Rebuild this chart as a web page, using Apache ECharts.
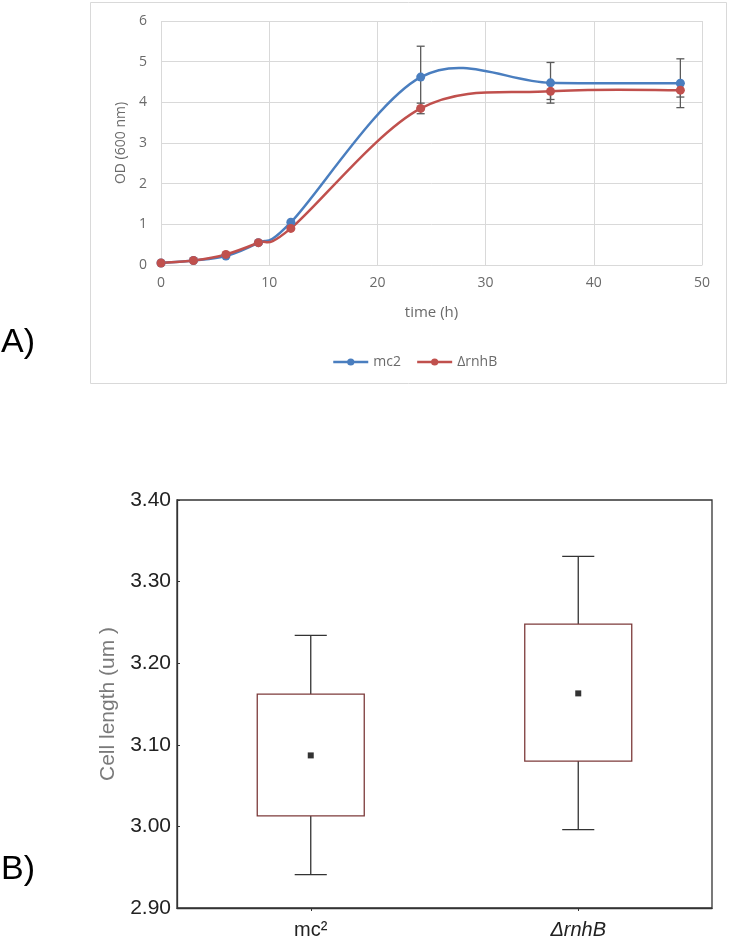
<!DOCTYPE html>
<html>
<head>
<meta charset="utf-8">
<script src="https://cdn.jsdelivr.net/npm/echarts@6/dist/echarts.min.js"></script>
<style>
  html, body { margin: 0; padding: 0; background: #fff; }
  #chart { width: 730px; height: 942px; }
</style>
</head>
<body>
<div id="chart"></div>
<script>
// ---- Panel A data: growth curve ----
const timeH = [0, 3, 6, 9, 12, 24, 36, 48];
const odMc2 = [0.05, 0.11, 0.22, 0.55, 1.05, 4.62, 4.48, 4.47];
const odRnhB = [0.05, 0.11, 0.26, 0.55, 0.90, 3.85, 4.27, 4.30];
const errTimes = [24, 36, 48];
const mc2Low = [3.86, 3.98, 3.87];
const mc2High = [5.38, 4.98, 5.07];
const rnhLow = [3.72, 4.07, 4.13];
const rnhHigh = [3.98, 4.47, 4.47];
const seriesNames = ['mc2', '\u0394rnhB'];

// ---- Panel B data: cell length box plot ----
const strains = ['mc\u00B2', '\u0394rnhB'];
const whiskerLow = [2.941, 2.996];
const quart1 = [3.013, 3.080];
const quart3 = [3.162, 3.248];
const whiskerHigh = [3.234, 3.331];
const means = [3.087, 3.163];

const blue = '#4a7ebf';
const red = '#c0504d';
const excelFont = 'Open Sans';
const greyTxt = '#6a6a6a';
const arialFont = '"Liberation Sans", Arial, sans-serif';

const chart = echarts.init(document.getElementById('chart'), null, { renderer: 'canvas' });

// Excel-style smoothed curve (Catmull-Rom Bezier in pixel space)
function curveRenderer(xs, ys, color) {
  return function (params, api) {
    if (params.dataIndex !== 0) return null;
    const pts = xs.map((x, i) => api.coord([x, ys[i]]));
    const n = pts.length;
    let d = 'M' + pts[0][0] + ' ' + pts[0][1];
    for (let i = 0; i < n - 1; i++) {
      const p0 = pts[Math.max(i - 1, 0)];
      const p1 = pts[i];
      const p2 = pts[i + 1];
      const p3 = pts[Math.min(i + 2, n - 1)];
      const c1x = p1[0] + (p2[0] - p0[0]) / 6;
      const c1y = p1[1] + (p2[1] - p0[1]) / 6;
      const c2x = p2[0] - (p3[0] - p1[0]) / 6;
      const c2y = p2[1] - (p3[1] - p1[1]) / 6;
      d += ' C' + c1x + ' ' + c1y + ' ' + c2x + ' ' + c2y + ' ' + p2[0] + ' ' + p2[1];
    }
    return {
      type: 'path',
      shape: { pathData: d },
      style: { fill: 'none', stroke: color, lineWidth: 2.5, lineJoin: 'round', lineCap: 'round' }
    };
  };
}

function errRender(params, api) {
  const x = api.value(0);
  const lo = api.coord([x, api.value(1)]);
  const hi = api.coord([x, api.value(2)]);
  const w = 4;
  const st = { stroke: '#5a5a5a', lineWidth: 1.3 };
  return {
    type: 'group',
    children: [
      { type: 'line', shape: { x1: lo[0], y1: lo[1], x2: hi[0], y2: hi[1] }, style: st },
      { type: 'line', shape: { x1: lo[0] - w, y1: lo[1], x2: lo[0] + w, y2: lo[1] }, style: st },
      { type: 'line', shape: { x1: hi[0] - w, y1: hi[1], x2: hi[0] + w, y2: hi[1] }, style: st }
    ]
  };
}

function boxRender(params, api) {
  const c = api.value(0);
  const pLow = api.coord([c, api.value(1)]);
  const pQ1 = api.coord([c, api.value(2)]);
  const pQ3 = api.coord([c, api.value(3)]);
  const pHigh = api.coord([c, api.value(4)]);
  const band = api.size([1, 0])[0];
  const bw = band * 0.4;
  const cw = band * 0.12;
  const x = pQ1[0];
  const wst = { stroke: '#333', lineWidth: 1.3 };
  return {
    type: 'group',
    children: [
      { type: 'line', shape: { x1: x, y1: pQ3[1], x2: x, y2: pHigh[1] }, style: wst },
      { type: 'line', shape: { x1: x, y1: pQ1[1], x2: x, y2: pLow[1] }, style: wst },
      { type: 'line', shape: { x1: x - cw / 2, y1: pHigh[1], x2: x + cw / 2, y2: pHigh[1] }, style: wst },
      { type: 'line', shape: { x1: x - cw / 2, y1: pLow[1], x2: x + cw / 2, y2: pLow[1] }, style: wst },
      { type: 'rect', shape: { x: x - bw / 2, y: pQ3[1], width: bw, height: pQ1[1] - pQ3[1] },
        style: { fill: '#fff', stroke: '#7d3b3b', lineWidth: 1.3 } }
    ]
  };
}

const option = {
  animation: false,
  backgroundColor: '#fff',
  textStyle: { fontFamily: excelFont },
  graphic: [
    { type: 'rect', shape: { x: 90.5, y: 2.5, width: 636, height: 381 },
      style: { fill: 'none', stroke: '#d9d9d9', lineWidth: 1 }, z: -10 },
    { type: 'text', left: 1, top: 326, style: { text: 'A)', font: '34px "Liberation Sans", Arial, sans-serif', fill: '#000' } },
    { type: 'text', left: 1, top: 853, style: { text: 'B)', font: '34px "Liberation Sans", Arial, sans-serif', fill: '#000' } }
  ],
  legend: {
    data: [
      { name: seriesNames[0], lineStyle: { color: blue, width: 2.5, opacity: 1 } },
      { name: seriesNames[1], lineStyle: { color: red, width: 2.5, opacity: 1 } }
    ],
    left: 327,
    top: 350,
    itemWidth: 35,
    itemHeight: 9,
    itemGap: 15,
    textStyle: { color: greyTxt, fontSize: 14, fontFamily: excelFont }
  },
  grid: [
    { left: 161, top: 21, width: 541, height: 244 },
    { left: 177, top: 500, width: 535, height: 408, show: true, borderColor: '#333', borderWidth: 1.3, backgroundColor: 'transparent' }
  ],
  xAxis: [
    {
      gridIndex: 0, type: 'value', min: 0, max: 50, interval: 10,
      name: 'time (h)', nameLocation: 'middle', nameGap: 40,
      nameTextStyle: { color: greyTxt, fontSize: 15, fontFamily: excelFont },
      axisLine: { show: true, lineStyle: { color: '#d9d9d9', width: 1 } },
      axisTick: { show: false },
      axisLabel: { color: greyTxt, fontSize: 14, margin: 11, fontFamily: excelFont },
      splitLine: { show: true, lineStyle: { color: '#d9d9d9', width: 1 } }
    },
    {
      gridIndex: 1, type: 'category', data: strains,
      axisLine: { show: true, lineStyle: { color: '#333', width: 1.3 } },
      axisTick: { show: true, alignWithLabel: true, length: 3, lineStyle: { color: '#333' } },
      axisLabel: {
        color: '#222', fontSize: 20, margin: 12, fontFamily: arialFont,
        formatter: function (v, i) { return i === 1 ? '{it|' + v + '}' : v; },
        rich: { it: { fontStyle: 'italic', fontSize: 20, color: '#222', fontFamily: arialFont } }
      },
      splitLine: { show: false }
    }
  ],
  yAxis: [
    {
      gridIndex: 0, type: 'value', min: 0, max: 6, interval: 1,
      name: 'OD (600 nm)', nameLocation: 'middle', nameGap: 29,
      nameTextStyle: { color: greyTxt, fontSize: 14, fontFamily: excelFont },
      axisLine: { show: false },
      axisTick: { show: false },
      axisLabel: { color: greyTxt, fontSize: 14, margin: 14, fontFamily: excelFont },
      splitLine: { show: true, lineStyle: { color: '#d9d9d9', width: 1 } }
    },
    {
      gridIndex: 1, type: 'value', min: 2.9, max: 3.4, interval: 0.1,
      name: 'Cell length (um )', nameLocation: 'middle', nameGap: 58,
      nameTextStyle: { color: '#7a7a7a', fontSize: 21, fontFamily: arialFont },
      axisLine: { show: true, lineStyle: { color: '#333', width: 1.3 } },
      axisTick: { show: true, inside: true, length: 3, lineStyle: { color: '#333' } },
      axisLabel: {
        color: '#222', fontSize: 21, margin: 6, fontFamily: arialFont,
        formatter: function (v) { return v.toFixed(2); }
      },
      splitLine: { show: false }
    }
  ],
  series: [
    {
      type: 'custom', name: 'errMc2', xAxisIndex: 0, yAxisIndex: 0, z: 1,
      renderItem: errRender, encode: { x: 0, y: [1, 2] },
      data: errTimes.map((t, i) => [t, mc2Low[i], mc2High[i]])
    },
    {
      type: 'custom', name: 'errRnhB', xAxisIndex: 0, yAxisIndex: 0, z: 1,
      renderItem: errRender, encode: { x: 0, y: [1, 2] },
      data: errTimes.map((t, i) => [t, rnhLow[i], rnhHigh[i]])
    },
    {
      type: 'custom', name: 'curveMc2', xAxisIndex: 0, yAxisIndex: 0, z: 2,
      renderItem: curveRenderer(timeH, odMc2, blue), encode: { x: 0, y: 1 },
      data: timeH.map((t, i) => [t, odMc2[i]])
    },
    {
      type: 'custom', name: 'curveRnhB', xAxisIndex: 0, yAxisIndex: 0, z: 3,
      renderItem: curveRenderer(timeH, odRnhB, red), encode: { x: 0, y: 1 },
      data: timeH.map((t, i) => [t, odRnhB[i]])
    },
    {
      type: 'line', name: seriesNames[0], xAxisIndex: 0, yAxisIndex: 0, z: 4,
      symbol: 'circle', symbolSize: 9,
      lineStyle: { color: blue, width: 2.5, opacity: 0 }, itemStyle: { color: blue },
      data: timeH.map((t, i) => [t, odMc2[i]])
    },
    {
      type: 'line', name: seriesNames[1], xAxisIndex: 0, yAxisIndex: 0, z: 5,
      symbol: 'circle', symbolSize: 9,
      lineStyle: { color: red, width: 2.5, opacity: 0 }, itemStyle: { color: red },
      data: timeH.map((t, i) => [t, odRnhB[i]])
    },
    {
      type: 'custom', name: 'box', xAxisIndex: 1, yAxisIndex: 1, z: 2,
      renderItem: boxRender, encode: { x: 0, y: [1, 2, 3, 4] },
      data: strains.map((s, i) => [i, whiskerLow[i], quart1[i], quart3[i], whiskerHigh[i]])
    },
    {
      type: 'scatter', name: 'mean', xAxisIndex: 1, yAxisIndex: 1, z: 3,
      symbol: 'rect', symbolSize: 6, itemStyle: { color: '#000' },
      data: strains.map((s, i) => [i, means[i]])
    }
  ]
};
chart.setOption(option);
</script>
</body>
</html>
